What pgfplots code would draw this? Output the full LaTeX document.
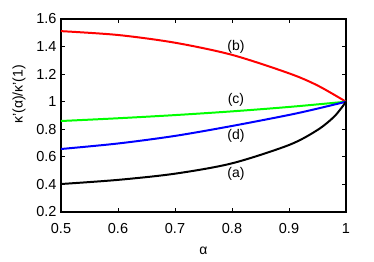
\documentclass[border=0pt]{standalone}
\usepackage{fontspec}
\setmainfont{Liberation Sans}
\usepackage{pgfplots}
\pgfplotsset{compat=1.18}
\begin{document}
\begin{tikzpicture}
\begin{axis}[
  scale only axis, width=285bp, height=193bp,
  xmin=0.5, xmax=1, ymin=0.2, ymax=1.6,
  xtick={0.5,0.6,...,1.0}, ytick={0.2,0.4,...,1.6},
  xticklabels={0.5,0.6,0.7,0.8,0.9,1},
  yticklabels={0.2,0.4,0.6,0.8,1,1.2,1.4,1.6},
  tick align=inside, major tick length=4bp,
  tick style={black, line width=0.9pt},
  axis line style={line width=1.4pt},
  ticklabel style={font=\fontsize{14.5bp}{17bp}\selectfont},
  xticklabel style={yshift=-8bp},
  yticklabel style={xshift=-1bp},
  xlabel={α}, ylabel={κ'(α)/κ'(1)},
  xlabel style={font=\fontsize{14bp}{16bp}\selectfont, at={([yshift=-39bp]rel axis cs:0.5,0)}, anchor=center},
  ylabel style={font=\fontsize{14bp}{16bp}\selectfont, at={([xshift=-42bp]rel axis cs:0,0.61)}, anchor=center},
  every axis plot/.style={line width=2pt, smooth, no marks},
  clip=false,
]
\coordinate (ll) at (rel axis cs:0,0);
\coordinate (ur) at (rel axis cs:1,1);
\addplot[red] coordinates {(0.5,1.512) (0.6,1.484) (0.7,1.428) (0.8,1.340) (0.9,1.206) (0.95,1.118) (1.0,1.0)};
\addplot[green] coordinates {(0.5,0.860) (0.6,0.880) (0.7,0.903) (0.8,0.930) (0.9,0.962) (1.0,1.0)};
\addplot[blue] coordinates {(0.5,0.657) (0.6,0.697) (0.7,0.752) (0.8,0.824) (0.9,0.904) (0.95,0.950) (1.0,1.0)};
\addplot[black] coordinates {(0.5,0.403) (0.6,0.433) (0.7,0.478) (0.8,0.553) (0.9,0.686) (0.95,0.795) (0.98,0.895) (1.0,1.0)};
\node[font=\fontsize{14bp}{16bp}\selectfont] at (axis cs:0.807,1.40) {(b)};
\node[font=\fontsize{14bp}{16bp}\selectfont] at (axis cs:0.807,1.013) {(c)};
\node[font=\fontsize{14bp}{16bp}\selectfont] at (axis cs:0.807,0.752) {(d)};
\node[font=\fontsize{14bp}{16bp}\selectfont] at (axis cs:0.807,0.474) {(a)};
\end{axis}
\pgfresetboundingbox
\path (ll) ++(-61bp,-50bp) rectangle ([shift={(28bp,19bp)}]ur);
\end{tikzpicture}
\end{document}
